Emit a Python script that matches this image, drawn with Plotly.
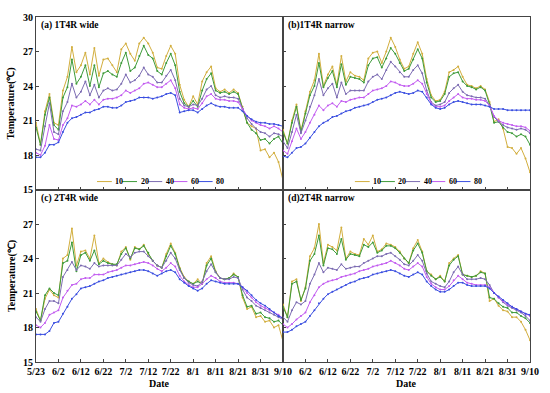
import plotly.graph_objects as go

# ---------------- data ----------------
days = list(range(0, 111, 2))  # days since 5/23, every 2 days
tick_days = [0, 10, 20, 30, 40, 50, 60, 70, 80, 90, 100, 110]
tick_labels = ["5/23", "6/2", "6/12", "6/22", "7/2", "7/12", "7/22", "8/1", "8/11", "8/21", "8/31", "9/10"]
depths = ["10", "20", "40", "60", "80"]

a10 = [20.8,18.9,21.8,23.3,20.8,20.6,23.6,24.8,27.4,25.2,25.8,26.9,25.0,27.3,24.9,26.3,26.4,25.8,25.2,27.2,27.7,26.8,26.2,27.7,28.2,27.7,26.9,25.6,25.5,26.6,27.5,26.8,24.1,22.8,22.2,23.1,22.4,24.4,25.2,25.7,23.8,23.5,23.7,23.4,23.7,23.4,22.2,20.8,20.5,20.3,18.4,18.5,17.8,18.2,17.4,15.8]
a20 = [20.4,18.9,21.5,23.0,20.6,20.2,23.0,23.9,26.3,24.2,24.8,25.8,24.0,25.8,23.9,25.1,25.3,25.0,24.8,26.0,26.9,25.3,25.6,26.6,27.5,26.7,26.4,25.3,25.0,26.0,26.8,25.8,23.5,22.5,22.2,22.7,22.2,23.6,24.6,25.1,23.6,23.4,23.5,23.3,23.5,23.3,22.0,20.8,20.2,19.9,19.3,19.4,19.0,19.4,19.6,19.0]
a40 = [18.5,18.4,20.5,22.5,20.0,19.8,21.8,22.6,24.2,23.0,23.5,24.4,23.2,24.1,23.0,23.6,23.8,23.6,23.7,24.2,25.0,24.3,24.5,24.9,25.6,25.0,24.8,24.3,24.3,24.9,25.4,24.5,22.9,22.3,22.2,22.4,22.3,22.9,23.7,24.0,23.2,23.0,23.1,23.0,23.0,22.9,22.0,21.2,20.7,20.3,20.0,19.9,19.6,19.9,19.8,19.6]
a60 = [18.2,18.0,18.8,20.6,19.4,19.3,20.6,21.2,22.3,22.2,22.4,22.7,22.4,22.8,22.4,22.8,22.9,22.9,23.0,23.2,23.6,23.4,23.6,23.8,24.2,24.3,24.1,23.9,23.9,24.2,24.5,23.8,22.4,22.1,22.0,22.1,22.0,22.5,23.1,23.3,22.9,22.8,22.8,22.7,22.7,22.6,22.0,21.4,21.0,20.8,20.6,20.5,20.3,20.5,20.3,20.0]
a80 = [17.8,17.8,18.2,18.9,18.9,19.1,20.0,20.8,21.2,21.3,21.5,21.7,21.7,21.9,22.0,22.2,22.2,22.1,22.1,22.3,22.6,22.7,22.8,23.0,23.0,23.0,22.9,23.0,23.1,23.3,23.4,23.2,21.7,21.8,21.9,21.9,21.7,22.0,22.3,22.5,22.3,22.2,22.2,22.1,22.1,22.1,21.8,21.4,21.1,20.9,20.8,20.8,20.7,20.7,20.6,20.5]

b10 = [20.2,19.0,21.0,22.4,20.1,21.8,23.5,24.5,26.8,24.0,25.0,25.7,24.1,26.6,24.4,25.2,24.9,24.8,24.5,26.4,26.9,27.0,26.0,27.0,28.2,27.4,26.3,25.5,25.7,26.8,27.8,26.8,24.6,23.2,22.7,22.8,23.5,25.2,25.4,25.7,24.8,24.1,24.0,23.8,24.0,23.7,22.6,20.9,21.1,20.3,18.7,18.6,18.1,18.6,17.7,16.5]
b20 = [20.0,19.0,20.8,22.2,20.0,21.6,23.2,24.0,26.0,23.9,24.7,25.3,23.9,25.9,24.1,24.8,24.7,24.6,24.3,25.8,26.4,26.5,25.6,26.4,27.3,26.8,26.0,25.3,25.5,26.3,27.2,26.4,24.3,23.0,22.6,22.7,23.3,24.8,25.1,25.2,24.4,24.0,23.9,23.7,23.9,23.6,22.4,20.8,20.9,20.4,20.0,19.9,19.6,19.8,19.6,18.9]
b40 = [19.2,18.6,20.0,21.5,19.9,21.0,22.2,23.2,24.6,23.2,23.8,24.2,23.0,24.3,23.3,23.6,23.6,23.6,23.6,24.4,24.8,25.0,24.6,25.4,26.1,25.7,25.2,24.8,24.8,25.4,25.8,25.1,23.6,22.6,22.3,22.4,22.6,23.4,23.8,24.1,23.5,23.2,23.1,23.0,23.0,22.9,22.3,21.3,20.9,20.6,20.4,20.3,20.2,20.3,20.2,19.9]
b60 = [18.4,18.1,19.2,20.3,19.4,20.0,20.8,21.5,22.3,21.9,22.3,22.5,22.2,22.7,22.6,22.8,22.9,23.0,23.0,23.3,23.6,23.7,23.8,24.0,24.4,24.3,24.1,24.0,24.0,24.2,24.5,24.2,23.3,22.5,22.2,22.2,22.3,22.7,23.0,23.3,23.0,22.9,22.9,22.8,22.8,22.7,22.3,21.4,21.0,20.8,20.7,20.6,20.5,20.5,20.4,20.1]
b80 = [17.9,17.8,18.2,18.6,18.7,19.0,19.5,20.0,20.5,20.8,21.0,21.3,21.4,21.6,21.8,21.9,22.1,22.2,22.3,22.4,22.6,22.8,22.9,23.0,23.2,23.4,23.5,23.4,23.3,23.4,23.6,23.5,23.0,22.4,22.1,22.0,22.1,22.4,22.6,22.7,22.6,22.5,22.4,22.4,22.4,22.3,22.2,22.0,22.0,22.0,21.9,21.9,21.9,21.9,21.9,21.9]

c10 = [19.6,18.6,20.5,21.3,20.8,20.6,24.0,24.3,26.6,23.4,24.6,24.7,24.0,26.0,23.6,24.0,23.7,23.5,23.4,24.6,25.0,23.9,25.0,24.8,25.2,24.4,23.8,23.4,23.2,24.4,25.3,24.5,23.2,22.4,22.0,21.8,22.2,21.8,23.6,24.2,22.9,22.3,22.2,22.3,22.7,22.4,20.6,19.6,19.8,18.9,19.0,18.5,18.6,18.0,18.2,16.8]
c20 = [19.4,18.6,20.8,21.4,21.0,20.8,23.6,23.8,25.4,22.9,24.3,24.5,23.8,24.7,23.5,23.8,23.6,23.5,23.5,24.4,24.9,24.0,24.9,24.8,25.1,24.5,23.8,23.4,23.2,24.2,25.1,24.4,23.1,22.3,22.0,21.8,22.0,21.8,23.4,24.0,22.8,22.3,22.2,22.3,22.6,22.4,20.8,19.8,19.9,19.2,19.3,18.9,18.8,18.5,18.6,18.2]
c40 = [18.9,18.5,19.6,20.3,20.3,20.1,22.4,23.0,23.7,23.0,23.4,23.3,23.1,23.6,23.3,23.4,23.4,23.4,23.4,23.9,24.4,24.1,24.5,24.6,24.6,24.2,23.8,23.4,23.2,23.8,24.5,24.0,23.0,22.3,21.9,21.7,21.6,22.0,22.9,23.5,22.8,22.3,22.2,22.2,22.4,22.3,21.3,20.6,20.3,19.9,19.7,19.5,19.3,19.1,18.9,18.7]
c60 = [18.2,18.0,18.4,19.1,19.3,19.5,20.6,21.2,21.7,21.8,22.2,22.3,22.3,22.6,22.6,22.6,22.8,22.9,23.0,23.2,23.4,23.4,23.5,23.6,23.7,23.6,23.4,23.1,22.9,23.2,23.6,23.3,22.5,22.0,21.7,21.5,21.5,21.8,22.2,22.5,22.3,22.0,21.9,21.9,21.9,21.8,21.5,21.0,20.6,20.2,19.9,19.7,19.5,19.3,19.1,18.8]
c80 = [17.4,17.4,17.4,17.7,18.4,18.5,19.2,19.8,20.5,20.9,21.4,21.5,21.6,21.8,22.0,22.1,22.3,22.4,22.5,22.6,22.7,22.8,22.9,23.0,23.0,22.9,22.7,22.5,22.7,22.9,23.0,22.8,22.2,21.9,21.6,21.4,21.2,21.4,21.8,22.1,22.0,21.9,21.8,21.8,21.8,21.8,21.5,21.2,20.8,20.4,20.1,19.9,19.6,19.3,19.0,18.8]

d10 = [20.0,18.9,22.0,22.2,20.3,21.5,24.2,24.9,27.0,23.6,25.2,25.0,24.7,26.7,24.0,24.6,24.4,24.3,25.7,25.2,26.0,24.6,24.8,25.3,25.2,25.0,24.6,24.0,23.6,24.9,25.6,24.6,22.9,22.6,22.2,22.5,22.0,23.6,24.0,24.3,22.6,22.5,22.4,22.5,22.9,22.7,20.3,20.5,19.9,19.5,19.4,18.9,18.9,18.5,17.8,16.9]
d20 = [19.8,18.9,21.8,22.0,20.4,21.4,23.8,24.4,26.0,23.4,24.9,24.8,24.4,25.7,23.9,24.4,24.3,24.2,25.2,25.0,25.4,24.5,24.7,25.1,25.1,24.9,24.5,24.0,23.6,24.7,25.3,24.5,22.9,22.5,22.2,22.4,22.0,23.4,23.9,24.2,22.6,22.5,22.4,22.5,22.8,22.7,20.6,20.5,20.1,19.8,19.7,19.3,19.3,19.0,18.8,18.4]
d40 = [18.9,18.5,19.5,20.2,20.0,20.3,21.8,22.6,23.6,22.8,23.2,23.1,23.0,23.5,23.1,23.2,23.3,23.3,23.6,23.8,24.0,24.2,24.2,24.4,24.5,24.2,23.9,23.5,23.4,23.8,24.3,23.8,22.7,22.0,21.8,21.6,21.5,22.0,22.8,23.3,22.6,22.2,22.2,22.2,22.3,22.2,21.7,21.0,20.6,20.2,19.9,19.7,19.5,19.3,19.0,18.6]
d60 = [18.3,18.0,18.3,18.7,19.0,19.3,20.2,20.8,21.5,21.8,22.0,22.1,22.2,22.4,22.5,22.6,22.7,22.9,23.0,23.1,23.3,23.4,23.5,23.6,23.8,23.6,23.4,23.1,23.0,23.3,23.6,23.3,22.4,21.8,21.5,21.3,21.3,21.6,22.1,22.5,22.2,21.9,21.8,21.7,21.7,21.7,21.5,21.0,20.6,20.3,20.0,19.8,19.6,19.4,19.2,19.0]
d80 = [17.6,17.6,17.8,18.1,18.3,18.5,19.0,19.5,20.1,20.5,20.9,21.1,21.3,21.5,21.7,21.9,22.0,22.2,22.3,22.4,22.6,22.7,22.8,22.9,23.0,22.9,22.7,22.5,22.4,22.6,22.8,22.6,22.0,21.6,21.3,21.1,21.1,21.3,21.6,21.9,21.9,21.7,21.6,21.6,21.6,21.6,21.4,21.0,20.7,20.4,20.1,19.8,19.6,19.4,19.2,19.1]

panel_titles = ["(a) 1T4R wide", "(b)1T4R narrow", "(c) 2T4R wide", "(d)2T4R narrow"]
panels = [[a10, a20, a40, a60, a80], [b10, b20, b40, b60, b80],
          [c10, c20, c40, c60, c80], [d10, d20, d40, d60, d80]]

# ---------------- style ----------------
colors = ["#D2AE3E", "#3E9B3A", "#7C6CB2", "#C25CF0", "#3A4EE0"]
FONT = "Liberation Serif, Times New Roman, serif"
axis_col = "#444444"

fig = go.Figure()

xdom = [[0.0, 0.5], [0.5, 1.0], [0.0, 0.5], [0.5, 1.0]]
ydom = [[0.5, 1.0], [0.5, 1.0], [0.0, 0.5], [0.0, 0.5]]

for p in range(4):
    xa = "x" if p == 0 else f"x{p+1}"
    ya = "y" if p == 0 else f"y{p+1}"
    for s, vals in enumerate(panels[p]):
        fig.add_trace(go.Scatter(
            x=days, y=vals, xaxis=xa, yaxis=ya, mode="lines+markers",
            line=dict(color=colors[s], width=1),
            marker=dict(color=colors[s], size=2),
            name=depths[s], showlegend=False, hoverinfo="skip"))

    xkey = "xaxis" if p == 0 else f"xaxis{p+1}"
    ykey = "yaxis" if p == 0 else f"yaxis{p+1}"
    bottom = p >= 2
    left = p % 2 == 0
    if bottom and left:
        tv, tt = tick_days, tick_labels
    elif bottom:
        tv, tt = tick_days[1:], tick_labels[1:]
    else:
        tv, tt = tick_days, [""] * len(tick_days)
    fig.update_layout({
        xkey: dict(domain=xdom[p], range=[0, 110], anchor=ya,
                   tickvals=tv, ticktext=tt, showticklabels=bottom,
                   ticks="inside", ticklen=3, tickcolor=axis_col,
                   ticklabeloverflow="allow",
                   showline=True, mirror=True, linecolor=axis_col, linewidth=1,
                   showgrid=False, zeroline=False,
                   tickfont=dict(family=FONT, size=10, color="black", weight="bold")),
        ykey: dict(domain=ydom[p], range=[15, 30], anchor=xa,
                   tickvals=([15, 18, 21, 24, 27, 30] if not bottom else [15, 18, 21, 24, 27]),
                   showticklabels=left,
                   ticks="inside", ticklen=3, tickcolor=axis_col,
                   ticklabeloverflow="allow",
                   showline=True, mirror=True, linecolor=axis_col, linewidth=1,
                   showgrid=False, zeroline=False,
                   tickfont=dict(family=FONT, size=10, color="black", weight="bold")),
    })

    # panel label
    fig.add_annotation(text=panel_titles[p], xref=f"{xa} domain", yref=f"{ya} domain",
                       x=0.012, y=0.95, xanchor="left", yanchor="middle", showarrow=False,
                       font=dict(family=FONT, size=9.5, color="black", weight="bold"))

# custom legends inside the top panels
leg_start = {0: 0.247, 1: 0.291}
step = 0.102
for p in (0, 1):
    xa = "x" if p == 0 else f"x{p+1}"
    ya = "y" if p == 0 else f"y{p+1}"
    for s in range(5):
        x0 = leg_start[p] + s * step
        fig.add_shape(type="line", xref=f"{xa} domain", yref=f"{ya} domain",
                      x0=x0, x1=x0 + 0.06, y0=0.046, y1=0.046,
                      line=dict(color=colors[s], width=1))
        fig.add_annotation(text=depths[s], xref=f"{xa} domain", yref=f"{ya} domain",
                           x=x0 + 0.066, y=0.046, xanchor="left", yanchor="middle",
                           showarrow=False,
                           font=dict(family=FONT, size=8, color="black", weight="bold"))

# axis titles
for yc in (0.75, 0.25):
    fig.add_annotation(text="Temperature(℃)", xref="paper", yref="paper",
                       x=-0.05, y=yc, textangle=-90, showarrow=False,
                       xanchor="center", yanchor="middle",
                       font=dict(family=FONT, size=10, color="black", weight="bold"))
for xc in (0.25, 0.75):
    fig.add_annotation(text="Date", xref="paper", yref="paper",
                       x=xc, y=-0.063, showarrow=False,
                       xanchor="center", yanchor="middle",
                       font=dict(family=FONT, size=10, color="black", weight="bold"))

fig.update_layout(
    width=550, height=393,
    margin=dict(l=36, r=12, t=11, b=31),
    paper_bgcolor="white", plot_bgcolor="white",
    showlegend=False,
)

# remove the browser's default 8px body margin so the 550x393 figure fills the window
fig.write_html("out.html",
               config={"displayModeBar": False},
               post_script="document.body.style.margin='0px';document.body.style.overflow='hidden';")
